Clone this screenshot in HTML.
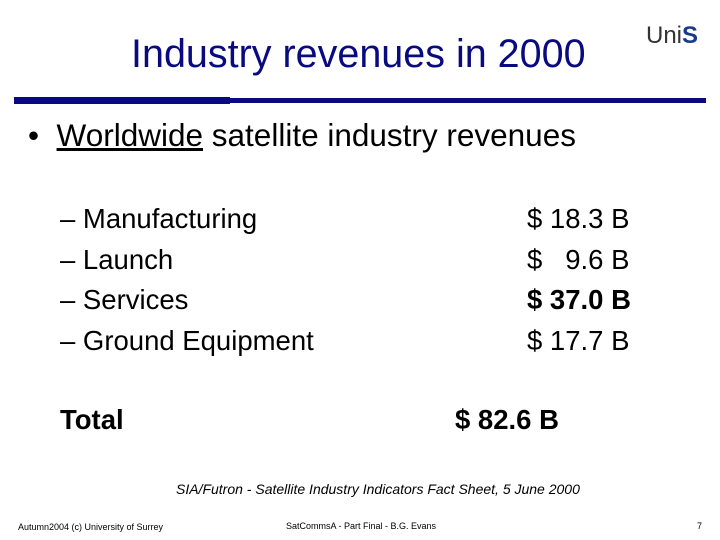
<!DOCTYPE html>
<html><head><meta charset="utf-8"><style>
body{margin:0;width:720px;height:540px;background:#fff;position:relative;overflow:hidden;font-family:"Liberation Sans",sans-serif;color:#000}
.a{position:absolute;white-space:pre;line-height:1}
</style></head><body>
<div class="a" style="left:131px;top:35px;font-size:39.5px;color:#0a0a80">Industry revenues in 2000</div>
<div class="a" style="left:646px;top:24px;font-size:24px;color:#333">Uni<b style="color:#1a3a8a">S</b></div>
<div style="position:absolute;left:14px;top:98px;width:692px;height:5px;background:#0a0a80"></div>
<div style="position:absolute;left:14px;top:97px;width:216px;height:7px;background:#0a0a80"></div>
<div class="a" style="left:28px;top:120px;font-size:31.5px">•&nbsp; <u>Worldwide</u> satellite industry revenues</div>
<div class="a" style="left:60px;top:199px;font-size:27.5px;line-height:40.7px">– Manufacturing
– Launch
– Services
– Ground Equipment</div>
<div class="a" style="left:527px;top:199px;font-size:27.5px;line-height:40.7px">$ 18.3 B
$   9.6 B
<b>$ 37.0 B</b>
$ 17.7 B</div>
<div class="a" style="left:60px;top:406px;font-size:27.5px;font-weight:bold">Total</div>
<div class="a" style="left:455px;top:406px;font-size:27.5px;font-weight:bold">$ 82.6 B</div>
<div class="a" style="left:176px;top:482px;font-size:14px;font-style:italic">SIA/Futron - Satellite Industry Indicators Fact Sheet, 5 June 2000</div>
<div class="a" style="left:18px;top:523px;font-size:9px">Autumn2004 (c) University of Surrey</div>
<div class="a" style="left:286px;top:522px;font-size:9px">SatCommsA - Part Final - B.G. Evans</div>
<div class="a" style="left:697px;top:522px;font-size:9px">7</div>
</body></html>
